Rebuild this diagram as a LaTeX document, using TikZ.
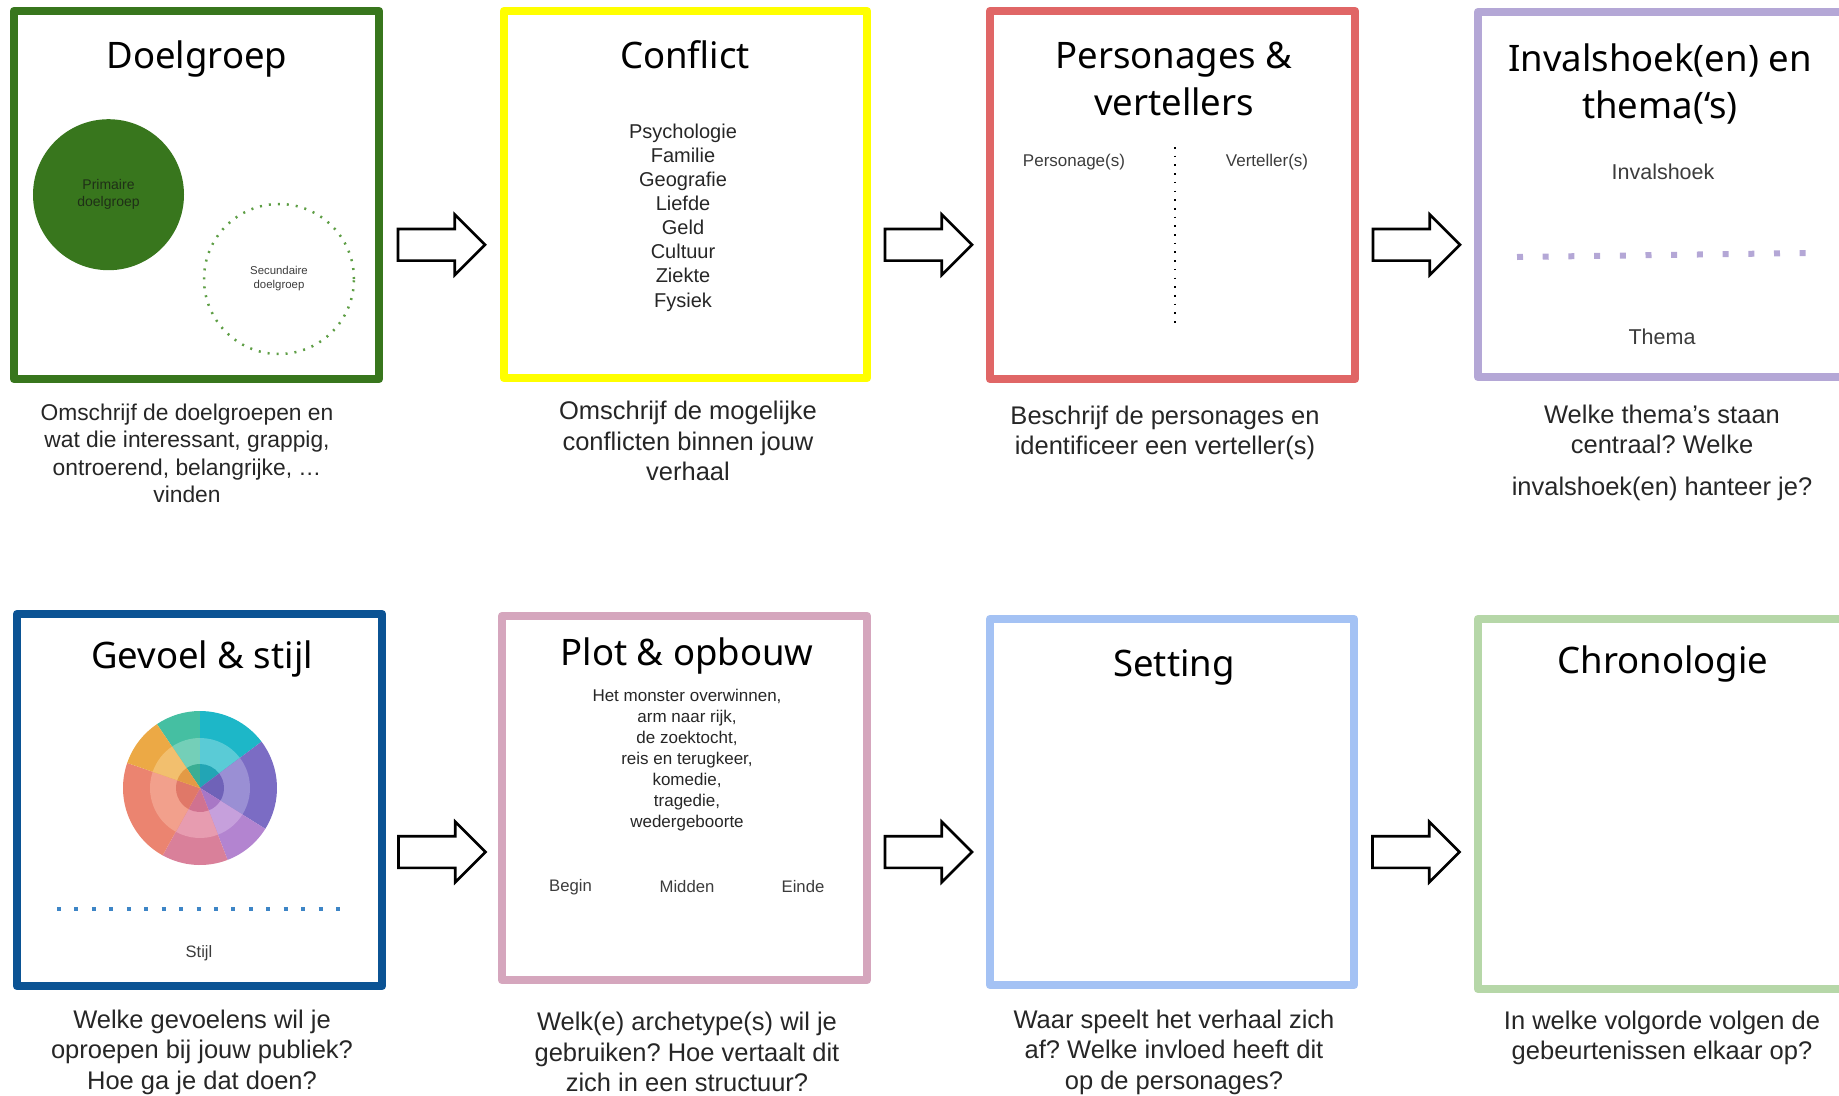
\documentclass[tikz,border=0pt]{standalone}
\usepackage{fontspec}
\setmainfont{Liberation Sans}
\newfontfamily\titlefont{Noto Sans}
\usetikzlibrary{shapes.arrows,calc}
\frenchspacing
\definecolor{cDoel}{HTML}{38761D}
\definecolor{cDoelDot}{HTML}{5E9E45}
\definecolor{cConf}{HTML}{FFFF00}
\definecolor{cPers}{HTML}{E06666}
\definecolor{cInv}{HTML}{B4A7D6}
\definecolor{cGev}{HTML}{0B5394}
\definecolor{cGevDot}{HTML}{3D85C6}
\definecolor{cPlot}{HTML}{D5A6BD}
\definecolor{cSet}{HTML}{A4C2F4}
\definecolor{cChr}{HTML}{B6D7A8}
\definecolor{capgrey}{HTML}{262626}
\definecolor{lblgrey}{HTML}{3C3C3C}
\definecolor{primtext}{HTML}{1F2F17}
% emotion wheel colours: outer / middle / inner
\definecolor{wTa}{HTML}{45BFA2}\definecolor{wTb}{HTML}{74CFB8}\definecolor{wTc}{HTML}{3AAE93}
\definecolor{wCa}{HTML}{1DB7C8}\definecolor{wCb}{HTML}{5ACBD6}\definecolor{wCc}{HTML}{22A5B5}
\definecolor{wPa}{HTML}{7B6CC4}\definecolor{wPb}{HTML}{9A8FD4}\definecolor{wPc}{HTML}{6F62B8}
\definecolor{wVa}{HTML}{B384D0}\definecolor{wVb}{HTML}{C6A0DC}\definecolor{wVc}{HTML}{A877C6}
\definecolor{wKa}{HTML}{D9809A}\definecolor{wKb}{HTML}{E79CB0}\definecolor{wKc}{HTML}{D07290}
\definecolor{wSa}{HTML}{EB8470}\definecolor{wSb}{HTML}{F2A08C}\definecolor{wSc}{HTML}{E07868}
\definecolor{wOa}{HTML}{ECA945}\definecolor{wOb}{HTML}{F2BF6E}\definecolor{wOc}{HTML}{E39A45}
\begin{document}
\frenchspacing
\begin{tikzpicture}[x=1bp,y=-1bp,
  panel/.style={draw=#1, line width=8.5bp, line join=round, inner sep=0pt, outer sep=0pt},
  ttl/.style={font=\titlefont\fontsize{36.5bp}{47bp}\selectfont, align=center, inner sep=0pt, text=black},
  capt/.style={font=\fontsize{25.5bp}{30.5bp}\selectfont, align=center, inner sep=0pt, text=capgrey},
  captsmall/.style={font=\fontsize{22.8bp}{27.5bp}\selectfont, align=center, inner sep=0pt, text=capgrey},
  lst/.style={font=\fontsize{20bp}{24.1bp}\selectfont, align=center, inner sep=0pt, text=capgrey},
  plst/.style={font=\fontsize{17bp}{21bp}\selectfont, align=center, inner sep=0pt, text=capgrey},
  lbl/.style={font=\fontsize{#1}{#1}\selectfont, inner sep=0pt, text=lblgrey},
  flow/.style={single arrow, draw=black, line width=2.6bp, fill=white,
    inner xsep=0pt, inner ysep=14.5bp, minimum width=0pt, outer sep=0pt,
    minimum height=87bp, single arrow head extend=14.5bp,
    single arrow tip angle=90, anchor=tail},
]
\useasboundingbox (0,0) rectangle (1839,1095);

% ---------- panels ----------
\node[panel=cDoel, minimum width=365bp, minimum height=368bp] (b1) at (196.5,195) {};
\node[panel=cConf, minimum width=363bp, minimum height=367bp] (b2) at (685.5,194.5) {};
\node[panel=cPers, minimum width=365bp, minimum height=368bp] (b3) at (1172.5,195) {};
\node[panel=cInv,  minimum width=365bp, minimum height=365bp] (b4) at (1660.5,194.5) {};
\node[panel=cGev,  minimum width=365bp, minimum height=372bp] (b5) at (199.5,800) {};
\node[panel=cPlot, minimum width=365bp, minimum height=364bp] (b6) at (684.5,798) {};
\node[panel=cSet,  minimum width=364bp, minimum height=366bp] (b7) at (1172,802) {};
\node[panel=cChr,  minimum width=365bp, minimum height=370bp] (b8) at (1660.5,804) {};

% ---------- titles ----------
\node[ttl, anchor=base] (t1) at (197,68) {Doelgroep};
\node[ttl, anchor=base] (t2) at (685,68) {Conflict};
\node[ttl] (t3) at (1174,79) {Personages \&\\vertellers};
\node[ttl] (t4) at (1660,84) {Invalshoek(en) en\\thema(‘s)};
\node[ttl, anchor=base] (t5) at (202,668) {Gevoel \& stijl};
\node[ttl, anchor=base] (t6) at (687,665) {Plot \& opbouw};
\node[ttl, anchor=base] (t7) at (1174,676) {Setting};
\node[ttl, anchor=base] (t8) at (1663,673) {Chronologie};

% ---------- Doelgroep contents ----------
\node[circle, fill=cDoel, minimum size=151bp, inner sep=0pt, align=center,
  font=\fontsize{14bp}{17bp}\selectfont, text=primtext] (prim) at (108.5,194.7) {Primaire\\doelgroep};
\node[circle, draw=cDoelDot, line width=2.5bp, dash pattern=on 2bp off 7bp,
  minimum size=150bp, inner sep=0pt, align=center,
  font=\fontsize{11.4bp}{14bp}\selectfont, text=lblgrey] (sec) at (279,279) {Secundaire\\doelgroep};

% ---------- Conflict contents ----------
\node[lst] (l2) at (683,217.5) {Psychologie\\Familie\\Geografie\\Liefde\\Geld\\Cultuur\\Ziekte\\Fysiek};

% ---------- Personages contents ----------
\node[lbl=17bp] (pers) at (1074,162) {Personage(s)};
\node[lbl=17bp] (vert) at (1267,162) {Verteller(s)};
\draw[black, line width=2bp, dash pattern=on 1.6bp off 7.1bp] (1175,147) -- (1175,326);

% ---------- Invalshoek contents ----------
\node[lbl=21.5bp] (inv) at (1663,172) {Invalshoek};
\node[lbl=21.5bp] (thm) at (1662,337) {Thema};
\draw[cInv, line width=6bp, dash pattern=on 6bp off 19.7bp] (1517,257) -- (1806,253);

% ---------- Gevoel contents ----------
\begin{scope}[shift={(200,788)}, yscale=-1]
  \foreach \a/\b/\co/\cm/\ci in {90/124/wTa/wTb/wTc, 37/90/wCa/wCb/wCc, -32/37/wPa/wPb/wPc,
      -69/-32/wVa/wVb/wVc, -119/-69/wKa/wKb/wKc, -199/-119/wSa/wSb/wSc, 124/161/wOa/wOb/wOc}{
    \fill[\co] (0,0) -- (\a:77) arc[start angle=\a, end angle=\b, radius=77] -- cycle;
    \fill[\cm] (0,0) -- (\a:50) arc[start angle=\a, end angle=\b, radius=50] -- cycle;
    \fill[\ci] (0,0) -- (\a:24) arc[start angle=\a, end angle=\b, radius=24] -- cycle;
  }
\end{scope}
\draw[cGevDot, line width=4bp, dash pattern=on 4bp off 13.44bp] (57,909) -- (341,909);
\node[lbl=16.5bp] (stijl) at (199,953) {Stijl};

% ---------- Plot contents ----------
\node[plst] (l6) at (687,760) {Het monster overwinnen,\\arm naar rijk,\\de zoektocht,\\reis en terugkeer,\\komedie,\\tragedie,\\wedergeboorte};
\node[lbl=16.7bp] (pbegin) at (570.5,887) {Begin};
\node[lbl=16.7bp] (pmidden) at (687,887) {Midden};
\node[lbl=16.7bp] (peinde) at (803,887) {Einde};

% ---------- captions ----------
\node[captsmall] (c1) at (187,453.5) {Omschrijf de doelgroepen en\\wat die interessant, grappig,\\ontroerend, belangrijke, …\\vinden};
\node[capt] (c2) at (688,441) {Omschrijf de mogelijke\\conflicten binnen jouw\\verhaal};
\node[capt] (c3) at (1165,433) {Beschrijf de personages en\\identificeer een verteller(s)};
\node[capt] (c4) at (1662,452.5) {Welke thema’s staan\\centraal? Welke\\[11bp]invalshoek(en) hanteer je?};
\node[capt] (c5) at (202,1052) {Welke gevoelens wil je\\oproepen bij jouw publiek?\\Hoe ga je dat doen?};
\node[capt] (c6) at (687,1052) {Welk(e) archetype(s) wil je\\gebruiken? Hoe vertaalt dit\\zich in een structuur?};
\node[capt] (c7) at (1174,1052) {Waar speelt het verhaal zich\\af? Welke invloed heeft dit\\op de personages?};
\node[capt] (c8) at (1662,1038) {In welke volgorde volgen de\\gebeurtenissen elkaar op?};

% ---------- flow arrows ----------
\node[flow] (a1) at ($(b1.east)!0.5!(b2.west)+(-43.5,50)$) {};
\node[flow] (a2) at ($(b2.east)!0.5!(b3.west)+(-43.5,50)$) {};
\node[flow] (a3) at ($(b3.east)!0.5!(b4.west)+(-43.5,50)$) {};
\node[flow] (a4) at ($(b5.east)!0.5!(b6.west)+(-43.5,53)$) {};
\node[flow] (a5) at ($(b6.east)!0.5!(b7.west)+(-43.5,52)$) {};
\node[flow] (a6) at ($(b7.east)!0.5!(b8.west)+(-43.5,49)$) {};
\end{tikzpicture}
\end{document}
